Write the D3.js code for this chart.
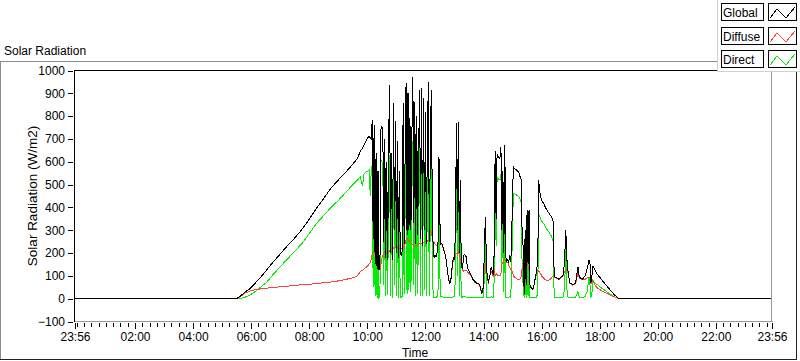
<!DOCTYPE html>
<html lang="en">
<head>
<meta charset="UTF-8">
<title>Solar Radiation</title>
<script src="https://d3js.org/d3.v7.min.js"></script>
<style>
  body { margin: 0; background: #fff; }
  svg text { font-family: "Liberation Sans", Arial, sans-serif; font-size: 12px; fill: #000; }
</style>
</head>
<body>
<div id="chart"></div>
<script>
// Sample times (HH:MM, the chart runs from 23:56 to 23:56 next day)
const times = [
  "23:56","00:00","05:30","05:38","05:47","05:58","06:10","06:22","06:32","06:45",
  "07:00","07:15","07:30","07:45","08:00","08:15","08:30","08:45","09:00","09:15",
  "09:30","09:40","09:45","09:50","09:53","09:57","10:01","10:04","10:06","10:08",
  "10:10","10:12","10:14","10:16","10:18","10:20","10:22","10:24","10:26","10:28",
  "10:30","10:32","10:34","10:36","10:38","10:40","10:42","10:44","10:46","10:48",
  "10:50","10:52","10:54","10:56","10:58","11:00","11:02","11:04","11:06","11:08",
  "11:10","11:12","11:14","11:16","11:18","11:20","11:22","11:24","11:26","11:28",
  "11:30","11:32","11:34","11:36","11:38","11:40","11:42","11:44","11:46","11:48",
  "11:50","11:52","11:54","11:56","11:58","12:00","12:02","12:04","12:06","12:08",
  "12:10","12:12","12:14","12:16","12:18","12:20","12:22","12:24","12:26","12:28",
  "12:30","12:32","12:34","12:36","12:38","12:40","12:42","12:44","12:46","12:48",
  "12:50","12:52","12:54","12:56","12:58","13:00","13:02","13:04","13:06","13:08",
  "13:10","13:12","13:14","13:16","13:18","13:20","13:22","13:24","13:26","13:28",
  "13:30","13:34","13:38","13:42","13:46","13:50","13:52","13:54","13:56","13:58",
  "14:00","14:02","14:04","14:06","14:08","14:10","14:12","14:14","14:16","14:18",
  "14:20","14:22","14:24","14:26","14:28","14:30","14:32","14:34","14:36","14:38",
  "14:40","14:42","14:44","14:46","14:48","14:50","14:52","14:54","14:56","14:58",
  "15:00","15:02","15:04","15:06","15:08","15:10","15:12","15:14","15:16","15:18",
  "15:20","15:22","15:24","15:26","15:28","15:30","15:32","15:34","15:36","15:38",
  "15:40","15:42","15:44","15:46","15:48","15:50","15:52","15:54","15:56","15:58",
  "16:00","16:04","16:08","16:12","16:16","16:20","16:24","16:26","16:30","16:36",
  "16:40","16:44","16:46","16:48","16:50","16:52","16:54","16:56","16:58","17:04",
  "17:10","17:15","17:18","17:24","17:30","17:34","17:38","17:40","17:42","17:44",
  "17:46","17:48","17:52","17:56","18:00","18:05","18:10","18:15","18:20","18:25",
  "18:30","18:35","18:40","23:56"
];

// Global radiation (W/m2)
const globalRad = [
  0,0,0,12,28,45,72,100,126,160,
  196,232,266,304,348,396,440,485,520,553,
  590,615,645,660,672,690,705,712,705,700,
  783,260,760,150,640,130,560,125,140,740,
  757,730,250,700,180,600,170,700,936,200,
  640,170,856,300,780,200,690,180,560,195,
  190,210,857,240,620,944,280,900,300,790,
  300,720,973,330,860,240,800,280,650,914,
  260,922,230,880,300,820,240,700,951,250,
  622,915,480,200,180,190,184,200,250,622,
  330,240,243,230,210,200,180,150,110,85,
  67,72,110,160,180,175,300,768,300,776,
  200,520,150,130,160,195,190,185,150,130,
  120,105,85,75,68,67,60,45,25,30,
  60,250,360,150,90,75,90,110,140,120,
  105,200,645,350,635,625,615,620,665,300,
  560,200,673,180,165,170,160,190,160,230,
  480,578,570,568,565,560,555,548,530,520,
  250,230,20,300,60,389,150,390,60,50,
  45,40,55,80,100,130,160,519,470,446,
  432,418,400,384,372,360,340,96,92,85,
  95,100,130,200,301,180,130,100,70,62,
  68,140,95,85,100,130,170,150,70,100,
  145,135,118,104,94,80,68,55,42,30,
  18,8,0,0
];

// Diffuse radiation (W/m2)
const diffuseRad = [
  0,0,0,10,24,34,40,44,46,49,
  52,55,58,61,63,67,70,73,78,84,
  92,100,118,125,130,137,145,152,160,172,
  195,205,205,195,180,170,170,165,125,150,
  175,190,200,205,200,200,200,205,210,210,
  215,215,225,230,230,225,225,222,220,218,
  218,220,225,230,240,260,265,260,255,250,
  245,240,235,230,230,232,235,238,240,240,
  240,242,245,245,248,250,250,252,255,258,
  300,290,270,250,245,240,235,235,240,245,
  245,240,235,225,215,200,180,150,112,88,
  70,74,108,150,170,170,190,200,200,205,
  190,175,150,130,120,125,125,125,120,115,
  110,100,82,72,66,65,58,44,24,28,
  58,150,150,140,88,72,88,108,120,110,
  100,130,100,110,105,100,100,100,110,150,
  160,170,170,165,160,160,150,135,130,125,
  115,100,95,92,88,85,85,85,88,100,
  140,150,18,180,58,210,140,130,58,48,
  44,40,55,78,95,120,125,120,115,110,
  100,90,82,80,82,90,100,95,90,84,
  92,98,110,120,125,125,120,98,68,60,
  65,110,90,82,85,90,95,95,65,80,
  75,70,55,45,40,34,28,22,17,12,
  8,4,0,0
];

// Direct radiation (W/m2)
const directRad = [
  0,0,0,2,6,16,34,55,72,105,
  140,174,208,242,285,330,365,400,430,465,
  500,520,535,495,545,555,560,565,450,560,
  588,50,555,10,460,5,390,5,10,610,
  600,590,60,560,10,400,15,480,630,10,
  420,5,600,60,540,10,460,5,330,5,
  5,10,670,20,380,680,20,660,40,670,
  30,460,690,60,600,10,540,20,400,682,
  10,680,10,640,40,560,10,450,660,10,
  330,620,200,5,5,5,5,10,40,345,
  90,10,10,8,5,5,5,5,5,5,
  5,5,5,5,8,8,100,590,100,580,
  10,300,5,5,10,10,8,8,5,5,
  5,5,5,5,5,5,5,5,3,3,
  5,120,250,5,5,5,5,5,10,5,
  5,80,535,230,530,528,520,525,545,150,
  400,30,500,5,5,5,5,10,5,100,
  350,462,460,458,455,452,450,445,435,420,
  100,60,2,120,3,180,10,250,5,5,
  3,3,5,5,5,8,30,367,360,350,
  340,330,315,300,290,275,250,3,3,3,
  3,5,20,80,240,50,8,5,5,5,
  5,30,5,5,10,30,96,60,5,25,
  85,70,65,60,52,45,38,30,22,15,
  9,4,0,0
];

const xTickLabels = ["23:56","02:00","04:00","06:00","08:00","10:00","12:00",
                     "14:00","16:00","18:00","20:00","22:00","23:56"];
const yTickValues = [-100,0,100,200,300,400,500,600,700,800,900,1000];

const seriesNames = ["Global", "Diffuse", "Direct"];
const seriesColors = ["#000000", "#ff4040", "#00ee00"];

// Chart dimensions
const width = 800;
const height = 361;
const plot = { left: 75, right: 772, top: 70.5, bottom: 321.5 };

// "HH:MM" -> minutes, rolling over to the next day when the clock goes back
function toMinutes(list) {
    let day = 0, prev = -1;
    return list.map(s => {
        const [h, m] = s.split(":").map(Number);
        const v = h * 60 + m;
        if (v < prev) day++;
        prev = v;
        return v + day * 1440;
    });
}

const mins = toMinutes(times);
const tickMins = toMinutes(xTickLabels);
const rows = mins.map((t, i) => ({ t, g: globalRad[i], d: diffuseRad[i], b: directRad[i] }));

const x = d3.scaleLinear()
    .domain([tickMins[0], tickMins[tickMins.length - 1]])
    .range([plot.left, plot.right]);

const y = d3.scaleLinear()
    .domain([-100, 1000])
    .range([plot.bottom, plot.top]);

const svg = d3.select("#chart")
    .append("svg")
    .attr("width", width)
    .attr("height", height);

// outer panel frame
svg.append("line").attr("x1", 0).attr("x2", 800).attr("y1", 61.5).attr("y2", 61.5).attr("stroke", "#8c8c8c");
svg.append("line").attr("x1", 0.5).attr("x2", 0.5).attr("y1", 61).attr("y2", 359).attr("stroke", "#8c8c8c");
svg.append("line").attr("x1", 0).attr("x2", 797).attr("y1", 359.5).attr("y2", 359.5).attr("stroke", "#222");
svg.append("line").attr("x1", 796.5).attr("x2", 796.5).attr("y1", 61).attr("y2", 360).attr("stroke", "#222");

// title
svg.append("text").attr("x", 4).attr("y", 55).text("Solar Radiation");

// clip for data
svg.append("clipPath").attr("id", "clip")
    .append("rect")
    .attr("x", plot.left).attr("y", plot.top)
    .attr("width", plot.right - plot.left).attr("height", plot.bottom - plot.top);

// series lines: direct first, then diffuse, global on top
const lineFor = key => d3.line().x(d => x(d.t)).y(d => y(d[key]));
const plotG = svg.append("g").attr("clip-path", "url(#clip)");
[["b", seriesColors[2]], ["d", seriesColors[1]], ["g", seriesColors[0]]].forEach(([key, col]) => {
    plotG.append("path")
        .datum(rows)
        .attr("d", lineFor(key))
        .attr("fill", "none")
        .attr("stroke", col)
        .attr("stroke-width", 1)
        .attr("shape-rendering", "crispEdges");
});

// plot border: dark top/left, grey bottom/right
svg.append("line").attr("x1", plot.left).attr("x2", plot.right).attr("y1", 70.5).attr("y2", 70.5).attr("stroke", "#000");
svg.append("line").attr("x1", 74.5).attr("x2", 74.5).attr("y1", 70).attr("y2", 322).attr("stroke", "#000");
svg.append("line").attr("x1", plot.left).attr("x2", plot.right + 1).attr("y1", 321.5).attr("y2", 321.5).attr("stroke", "#999");
svg.append("line").attr("x1", 771.5).attr("x2", 771.5).attr("y1", 70).attr("y2", 322).attr("stroke", "#999");

// y axis
const yAxis = svg.append("g")
    .attr("transform", "translate(73,0)")
    .call(d3.axisLeft(y).tickValues(yTickValues).tickSize(5).tickPadding(3).tickFormat(d3.format("d")));
yAxis.select(".domain").remove();
yAxis.selectAll("line").attr("stroke", "#000").attr("shape-rendering", "crispEdges");
yAxis.selectAll("text").attr("font-family", null).attr("font-size", null).attr("fill", null);

// x axis: minor ticks every 15 minutes, labelled major ticks
const minorTicks = d3.range(1440, tickMins[tickMins.length - 1], 15).concat(tickMins);
const xMinor = svg.append("g")
    .attr("transform", "translate(0,322.5)")
    .call(d3.axisBottom(x).tickValues(minorTicks).tickSize(4).tickFormat(""));
xMinor.select(".domain").remove();
xMinor.selectAll("line").attr("stroke", "#000").attr("shape-rendering", "crispEdges");

const xMajor = svg.append("g")
    .attr("transform", "translate(0,322.5)")
    .call(d3.axisBottom(x).tickValues(tickMins).tickSize(6).tickPadding(4)
        .tickFormat((d, i) => xTickLabels[i]));
xMajor.select(".domain").remove();
xMajor.selectAll("line").attr("stroke", "#000").attr("shape-rendering", "crispEdges");
xMajor.selectAll("text").attr("font-family", null).attr("font-size", null).attr("fill", null);

// axis titles
svg.append("text")
    .attr("transform", "translate(37,196) rotate(-90)")
    .attr("text-anchor", "middle")
    .style("font-size", "13.5px")
    .text("Solar Radiation (W/m2)");

svg.append("text")
    .attr("x", 415).attr("y", 357)
    .attr("text-anchor", "middle")
    .text("Time");

// legend panel
const legend = svg.append("g");
legend.append("rect").attr("x", 717).attr("y", 0).attr("width", 83).attr("height", 72).attr("fill", "#fff");
legend.append("line").attr("x1", 717.5).attr("x2", 717.5).attr("y1", 0).attr("y2", 72).attr("stroke", "#d0d0d0");
legend.append("line").attr("x1", 717).attr("x2", 800).attr("y1", 71.5).attr("y2", 71.5).attr("stroke", "#d0d0d0");

const zig = d3.line();
seriesNames.forEach((name, i) => {
    const top = 3 + i * 23.5;
    const row = legend.append("g").attr("transform", `translate(0,${Math.round(top)})`);
    row.append("rect").attr("x", 721.5).attr("y", 0.5).attr("width", 42).attr("height", 17)
        .attr("fill", "#fff").attr("stroke", "#000");
    row.append("text").attr("x", 723).attr("y", 14).text(name);
    row.append("rect").attr("x", 768.5).attr("y", 0.5).attr("width", 28).attr("height", 17)
        .attr("fill", "#fff").attr("stroke", "#000");
    row.append("path")
        .attr("d", zig([[770, 15], [777, 6], [786, 15], [795, 4]]))
        .attr("fill", "none")
        .attr("stroke", seriesColors[i])
        .attr("shape-rendering", "crispEdges");
});
</script>
</body>
</html>
